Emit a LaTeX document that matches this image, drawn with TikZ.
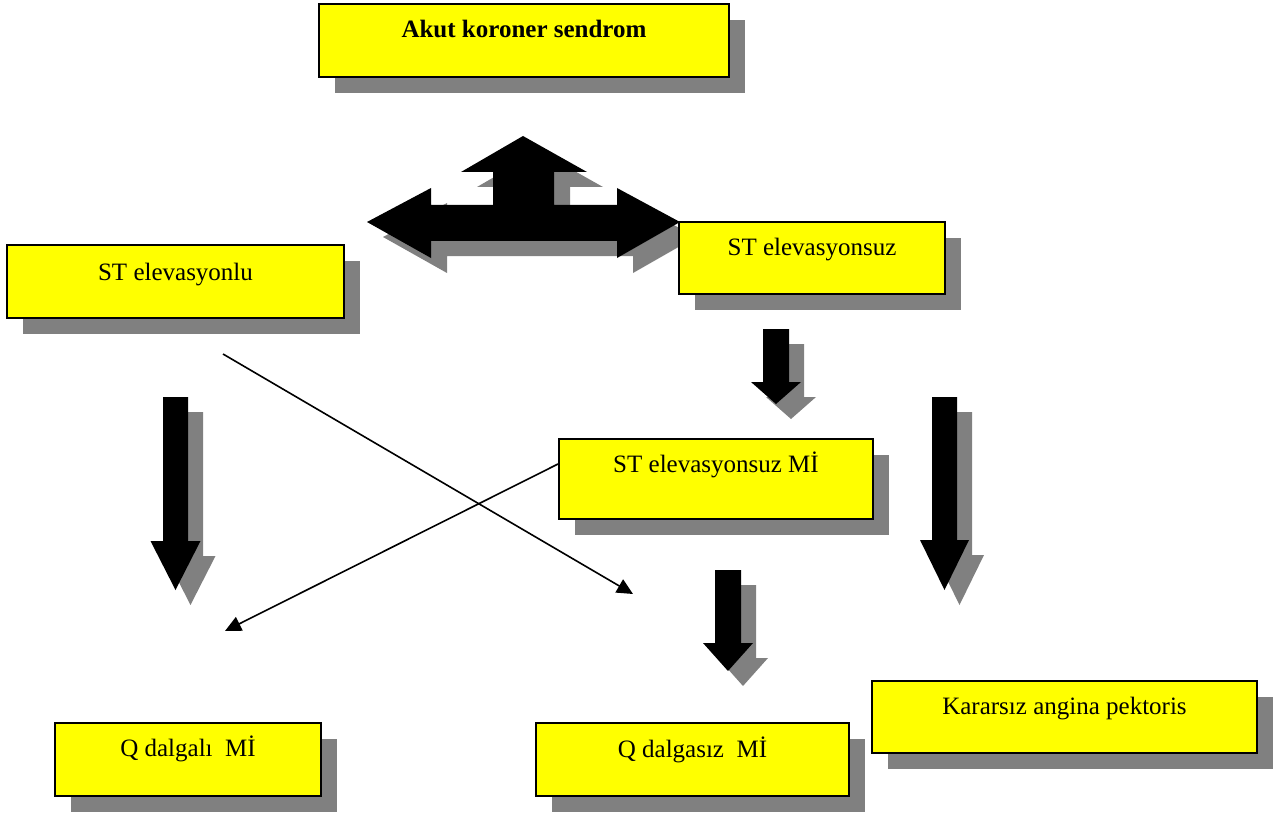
\documentclass[tikz,border=0pt]{standalone}
\usepackage{fontspec}
\setmainfont{Liberation Serif}
\usetikzlibrary{arrows.meta,shadows}
\definecolor{boxyellow}{HTML}{FFFF00}
\definecolor{shadowgray}{HTML}{808080}
\tikzset{
  box/.style={draw=black, line width=2pt, fill=boxyellow, rectangle, inner sep=0pt,
    drop shadow={shadow xshift=16pt, shadow yshift=-16pt, fill=shadowgray, opacity=1}},
  lbl/.style={anchor=base, inner sep=0pt, font=\fontsize{25}{30}\selectfont},
  thin/.style={line width=1.6pt, -{Triangle[length=16pt,width=15pt]}},
  blk/.style={fill=black},
  shd/.style={fill=shadowgray}
}
% x-centre, shaft half width, head half width, top, head base y, tip y
\newcommand\DArrowShape[6]{(#1-#2,#4) -- (#1+#2,#4) -- (#1+#2,#5) -- (#1+#3,#5) -- (#1,#6) -- (#1-#3,#5) -- (#1-#2,#5) -- cycle}
\newcommand\DArrow[6]{%
  \fill[shd,xshift=15pt,yshift=-15pt] \DArrowShape{#1}{#2}{#3}{#4}{#5}{#6};
  \fill[blk] \DArrowShape{#1}{#2}{#3}{#4}{#5}{#6};}
\begin{document}
\begin{tikzpicture}[x=1pt,y=-1pt]
\useasboundingbox (0,0) rectangle (1285,813);

% three-way arrow (shadow, then arrow)
\newcommand\TriShape{(523,136) -- (587,172) -- (554,172) -- (554,205) -- (617,205) -- (617,188) -- (680,222) -- (617,258) -- (617,241) -- (431,241) -- (431,258) -- (367,222) -- (431,188) -- (431,205) -- (493,205) -- (493,172) -- (461,172) -- cycle}
\fill[shd,xshift=16pt,yshift=-15pt] \TriShape;
\fill[blk] \TriShape;

% boxes
\node[box, minimum width=410pt, minimum height=73pt] (akut) at (524,40.5) {};
\node[box, minimum width=337pt, minimum height=73pt] (stel) at (175.5,281.5) {};
\node[box, minimum width=266pt, minimum height=72pt] (stelz) at (812,258) {};
\node[box, minimum width=314pt, minimum height=80pt] (nstemi) at (716,479) {};
\node[box, minimum width=266pt, minimum height=73pt] (qmi) at (188,759.5) {};
\node[box, minimum width=313pt, minimum height=73pt] (nqmi) at (692.5,759.5) {};
\node[box, minimum width=385pt, minimum height=72pt] (ua) at (1064.5,717) {};

% labels
\node[lbl, font=\fontsize{25}{30}\selectfont\bfseries] (akut-t) at ([yshift=-35pt]akut.north) {Akut koroner sendrom};
\node[lbl] (stel-t) at ([yshift=-36pt]stel.north) {ST elevasyonlu};
\node[lbl] (stelz-t) at ([yshift=-34pt]stelz.north) {ST elevasyonsuz};
\node[lbl] (nstemi-t) at ([yshift=-34pt]nstemi.north) {ST elevasyonsuz Mİ};
\node[lbl] (qmi-t) at ([yshift=-34pt]qmi.north) {Q dalgalı~~Mİ};
\node[lbl] (nqmi-t) at ([yshift=-35pt]nqmi.north) {Q dalgasız~~Mİ};
\node[lbl] (ua-t) at ([yshift=-34pt]ua.north) {Kararsız angina pektoris};

% block down arrows
\DArrow{175.5}{12.5}{25}{397}{541}{590}
\DArrow{944.5}{12.5}{24.5}{397}{540}{590}
\DArrow{776}{13}{25}{329}{382}{404}
\DArrow{728}{13}{25}{570}{643}{671}

% thin connectors
\coordinate (c1s) at (223,354);
\coordinate (c1e) at (633,594);
\coordinate (c2e) at (225,631);
\draw[thin] (c1s) -- (c1e);
\draw[thin] (nstemi.west |- 0,464) -- (c2e);
\end{tikzpicture}
\end{document}
